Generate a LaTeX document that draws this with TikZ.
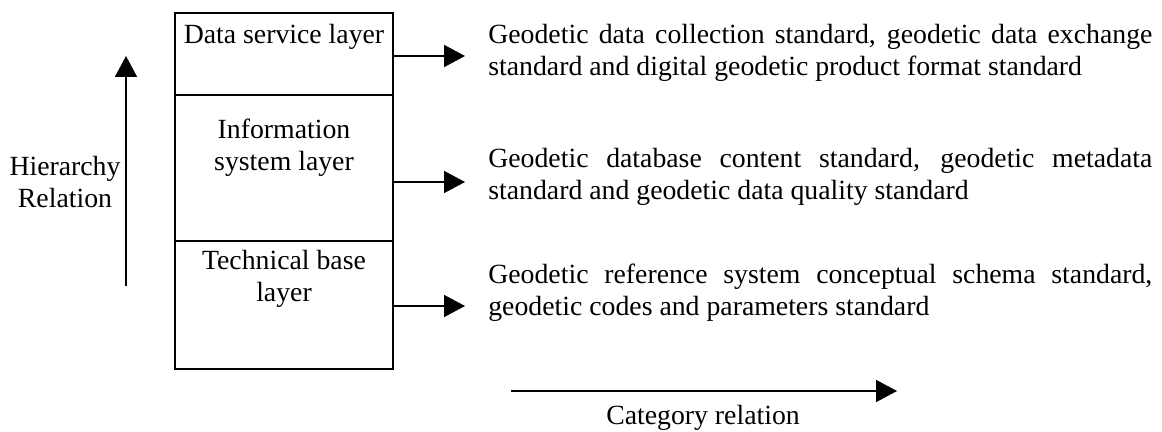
\documentclass[tikz,border=0pt]{standalone}
\usepackage{fontspec}
\setmainfont{Liberation Serif}
\usepackage{tikz}
\usetikzlibrary{arrows.meta, positioning}
\tikzstyle{txt}   = [inner sep=0, font=\fontsize{15.8}{18.2}\selectfont]
\tikzstyle{layer} = [draw, line width=1pt, inner sep=0, outer sep=0, minimum width=4.372cm]
\tikzstyle{std}   = [txt, anchor=north west, text width=13.28cm, align=justify]
\tikzstyle{arr}   = [draw, line width=1pt, -{Triangle[length=0.42cm, width=0.44cm]}]

\begin{document}
\begin{tikzpicture}
\useasboundingbox (0,0) rectangle (23.24,-8.64);

% layers
\node [layer, minimum height=1.634cm] at (5.68, -1.084) (dsl)  {};
\node [layer, minimum height=2.92cm]  at (5.68, -3.36 ) (isl)  {};
\node [layer, minimum height=2.56cm]  at (5.68, -6.1  ) (tbl)  {};

\node [txt, anchor=north, below=0.22cm of dsl.north] (dsl text) {Data service layer};
\node [txt, anchor=north, below=0.48cm of isl.north, align=center] (isl text) {Information\\system layer};
\node [txt, anchor=north, below=0.18cm of tbl.north, align=center] (tbl text) {Technical base\\layer};

% standards
\node [std] at ( 9.76, -0.48) (dsl std) {Geodetic data collection standard, geodetic data exchange\linebreak standard and digital geodetic product format standard};
\node [std] at ( 9.76, -2.96) (isl std) {Geodetic database content standard, geodetic metadata\linebreak standard and geodetic data quality standard};
\node [std] at ( 9.76, -5.28) (tbl std) {Geodetic reference system conceptual schema standard,\linebreak geodetic codes and parameters standard};

\coordinate (dsl out) at (9.3, -1.12);
\coordinate (isl out) at (9.3, -3.64);
\coordinate (tbl out) at (9.3, -6.12);

% relations
\node [txt, align=center] at (1.3, -3.12) [anchor=north] (hier) {Hierarchy\\Relation};
\coordinate (hier start) at (2.52, -5.72);
\coordinate (hier end)   at (2.52, -1.12);

\node [txt, anchor=base] at (14.06, -8.49) (cat) {Category relation};
\coordinate (cat start) at (10.22, -7.82);
\coordinate (cat end)   at (17.94, -7.82);

% edges
\path [arr] (dsl.east |- dsl out) -- (dsl out);
\path [arr] (isl.east |- isl out) -- (isl out);
\path [arr] (tbl.east |- tbl out) -- (tbl out);
\path [arr] (hier start) -- (hier end);
\path [arr] (cat start)  -- (cat end);

\end{tikzpicture}
\end{document}
